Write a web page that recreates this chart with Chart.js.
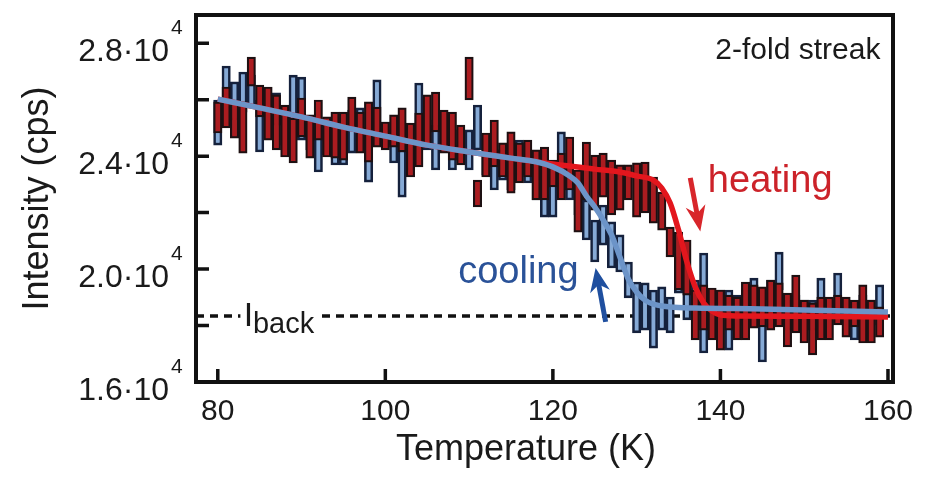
<!DOCTYPE html>
<html>
<head>
<meta charset="utf-8">
<title>2-fold streak intensity vs temperature</title>
<script src="https://cdn.jsdelivr.net/npm/chart.js@4.4.1/dist/chart.umd.min.js"></script>
<style>
    html, body { margin: 0; padding: 0; background: #ffffff; }
    #chart { display: block; }
</style>
</head>
<body>
<canvas id="chart" width="932" height="483"></canvas>
<script>
// Temperatures of the measured points (K)
const temps = [
    80, 81, 82, 83, 84, 85, 86, 87, 88, 89,
    90, 91, 92, 93, 94, 95, 96, 97, 98, 99,
    100, 101, 102, 103, 104, 105, 106, 107, 108, 109,
    110, 111, 112, 113, 114, 115, 116, 117, 118, 119,
    120, 121, 122, 123, 124, 125, 126, 127, 128, 129,
    130, 131, 132, 133, 134, 135, 136, 137, 138, 139,
    140, 141, 142, 143, 144, 145, 146, 147, 148, 149,
    150, 151, 152, 153, 154, 155, 156, 157, 158, 159
];

// Heating run: lower / upper edge of each intensity bar (cps)
const heatLo = [
    24820, 25000, 24640, 24110, 26480, 25390, 24570, 24220, 23970, 23760,
    24680, 23930, 24570, 23970, 23930, 23860, 24930, 24110, 23790, 24320,
    24220, 24320, 24150, 23260, 23620, 24320, 24860, 24110, 23860, 23690,
    25990, 22200, 23260, 23620, 23260, 22690, 23050, 23260, 22450, 22450,
    22910, 22450, 22800, 21310, 22450, 22090, 22550, 21920, 22090, 22450,
    21840, 21990, 21630, 21380, 20430, 19260, 19080, 17490, 17840, 17490,
    17130, 17840, 17490, 17490, 17910, 17950, 17840, 17950, 17240, 17740,
    17380, 16960, 17490, 17490, 18020, 17590, 17950, 17380, 17380, 17590
];
const heatHi = [
    25920, 26450, 25990, 25920, 27510, 26520, 26450, 26170, 25810, 25350,
    26060, 25460, 25990, 25390, 25560, 25560, 26090, 25560, 25920, 25740,
    25210, 25460, 25710, 25170, 25530, 26170, 26270, 25630, 25560, 25100,
    27510, 23150, 24820, 25280, 24470, 24860, 24470, 24570, 24220, 24320,
    23860, 24110, 24680, 23510, 24500, 24040, 24110, 23860, 23690, 23690,
    23760, 23790, 23260, 22730, 21490, 21310, 21030, 19260, 19440, 19330,
    19260, 19080, 19010, 19540, 19440, 19370, 19610, 19510, 19150, 19790,
    18900, 18800, 19010, 19010, 19080, 19010, 18900, 19440, 18900, 18660
];

// Cooling run: lower / upper edge of each intensity bar (cps)
const coolLo = [
    24390, 25740, 25280, 25560, 25740, 24150, 24930, 25100, 24390, 25210,
    24570, 24220, 23440, 24040, 23690, 23690, 24110, 24220, 23080, 24750,
    24390, 23760, 22550, 23510, 24930, 24220, 23510, 24220, 23510, 23860,
    23510, 24220, 23330, 22800, 23150, 22800, 23330, 23050, 22450, 21840,
    21840, 22800, 22450, 21920, 21030, 20250, 20850, 20040, 19900, 18980,
    17740, 17840, 17200, 17840, 17740, 19150, 18200, 18370, 17030, 18200,
    18440, 17130, 18020, 18200, 18900, 16710, 18900, 19260, 17840, 18200,
    18020, 17840, 18900, 18020, 18550, 18200, 17490, 18200, 18020, 18550
];
const coolHi = [
    25990, 27190, 26630, 26980, 26870, 25990, 26170, 26240, 25630, 26870,
    26800, 25280, 25280, 25100, 24930, 24930, 25630, 25710, 24930, 26700,
    25210, 24930, 24220, 24570, 26590, 25280, 25100, 25100, 24390, 24930,
    24930, 25810, 24570, 24220, 24220, 24220, 24570, 23970, 23860, 24220,
    23510, 24860, 23330, 23050, 22450, 21740, 22270, 21670, 21210, 20250,
    19540, 19510, 19260, 19370, 19010, 20430, 19260, 19610, 20570, 19080,
    19260, 19260, 19080, 19260, 19680, 19330, 19610, 20600, 18900, 19080,
    18900, 18900, 19680, 18900, 19860, 18900, 18830, 19080, 18900, 19440
];

// Fitted curves
const heatFitT = [80, 85, 90, 95, 100, 105, 110, 115, 120, 125, 128, 130, 132, 133, 134, 135, 136, 137, 138, 139, 140, 142, 150, 160];
const heatFitI = [26020, 25710, 25390, 25030, 24710, 24390, 24150, 23930, 23720, 23540, 23440, 23300, 23150, 22870, 22340, 21380, 20250, 19360, 18800, 18510, 18370, 18340, 18330, 18300];
const coolFitT = [80, 85, 90, 95, 100, 105, 110, 115, 118, 120, 122, 123, 124, 125, 126, 127, 128, 129, 130, 131, 132, 134, 137, 145, 160];
const coolFitI = [26020, 25710, 25390, 25030, 24710, 24390, 24150, 23930, 23800, 23620, 23300, 23050, 22590, 22200, 21740, 21210, 20430, 19650, 19190, 18900, 18760, 18660, 18620, 18590, 18480];

// Background level (dashed line)
const backLevel = 18340;

// Axes
const xRange = [77.4, 160.6];
const yRange = [16000, 29000];
const xTickValues = [80, 100, 120, 140, 160];
const yTickValues = [16000, 18000, 20000, 22000, 24000, 26000, 28000];
const yLabelValues = [16000, 20000, 24000, 28000];

const FONT = "'Liberation Sans', Arial, 'DejaVu Sans', sans-serif";
const INK = '#1a1a1a';
const Y_LABEL_PAD = 27;

/**
 * Draw a straight arrow with a filled head at (x2, y2)
 */
function drawArrow(ctx, x1, y1, x2, y2, color, width, headLen, headHalf) {
    const ang = Math.atan2(y2 - y1, x2 - x1);
    const cos = Math.cos(ang);
    const sin = Math.sin(ang);
    const bx = x2 - headLen * cos;
    const by = y2 - headLen * sin;
    ctx.setLineDash([]);
    ctx.strokeStyle = color;
    ctx.fillStyle = color;
    ctx.lineWidth = width;
    ctx.lineCap = 'butt';
    ctx.beginPath();
    ctx.moveTo(x1, y1);
    ctx.lineTo(bx + headLen * 0.5 * cos, by + headLen * 0.5 * sin);
    ctx.stroke();
    ctx.beginPath();
    ctx.moveTo(x2, y2);
    ctx.lineTo(bx + headHalf * sin, by - headHalf * cos);
    ctx.lineTo(bx + headLen * 0.3 * cos, by + headLen * 0.3 * sin);
    ctx.lineTo(bx - headHalf * sin, by + headHalf * cos);
    ctx.closePath();
    ctx.fill();
}

// Frame, inward ticks and the text / arrow annotations
const notesPlugin = {
    id: 'notes',
    afterDatasetsDraw(chart) {
        const { ctx, chartArea: a } = chart;
        const xs = chart.scales.x;
        const ys = chart.scales.y;
        const px = t => xs.getPixelForValue(t);
        const py = v => ys.getPixelForValue(v);

        ctx.save();
        ctx.setLineDash([]);

        // I_back label sits on the dashed line
        ctx.fillStyle = '#ffffff';
        ctx.fillRect(px(82.7), py(backLevel) - 6, px(92.3) - px(82.7), 12);
        ctx.fillStyle = INK;
        ctx.textBaseline = 'alphabetic';
        ctx.textAlign = 'left';
        ctx.font = `34px ${FONT}`;
        ctx.fillText('I', px(83.1), py(backLevel) + 10);
        ctx.font = `29px ${FONT}`;
        ctx.fillText('back', px(84.2), py(backLevel) + 17);

        // frame
        ctx.strokeStyle = '#111111';
        ctx.lineWidth = 4;
        ctx.strokeRect(a.left, a.top, a.right - a.left, a.bottom - a.top);

        // inward tick marks
        ctx.lineWidth = 3.5;
        ctx.beginPath();
        yTickValues.forEach(v => {
            ctx.moveTo(a.left, py(v));
            ctx.lineTo(a.left + 13, py(v));
        });
        xTickValues.forEach(t => {
            ctx.moveTo(px(t), a.bottom);
            ctx.lineTo(px(t), a.bottom - 13);
        });
        ctx.stroke();

        // panel label
        ctx.fillStyle = INK;
        ctx.font = `30px ${FONT}`;
        ctx.textAlign = 'right';
        ctx.fillText('2-fold streak', px(159.1), py(27440));

        // heating
        ctx.textAlign = 'left';
        ctx.fillStyle = '#cc2229';
        ctx.font = `38px ${FONT}`;
        ctx.fillText('heating', px(138.5), py(22730));
        drawArrow(ctx, px(136.4), py(23230), px(137.6), py(21330), '#d8262b', 5, 26, 10);

        // cooling
        ctx.fillStyle = '#2a5298';
        ctx.fillText('cooling', px(108.7), py(19510));
        drawArrow(ctx, px(126.3), py(18130), px(125.1), py(20040), '#1f4f9f', 5, 24, 10);

        ctx.restore();
    },
    afterDraw(chart) {
        const { ctx, chartArea: a } = chart;
        const ys = chart.scales.y;
        ctx.save();
        ctx.fillStyle = INK;
        ctx.textBaseline = 'alphabetic';

        // exponent of the y tick labels
        ctx.font = `21px ${FONT}`;
        ctx.textAlign = 'left';
        yLabelValues.forEach(v => {
            ctx.fillText('4', a.left - Y_LABEL_PAD + 2, ys.getPixelForValue(v) - 9);
        });

        // x axis title
        ctx.font = `36px ${FONT}`;
        ctx.textAlign = 'center';
        ctx.fillText('Temperature (K)', 526, 460);
        ctx.restore();
    }
};

const ctx = document.getElementById('chart').getContext('2d');

new Chart(ctx, {
    type: 'bar',
    data: {
        datasets: [
            {
                type: 'line',
                label: 'cooling fit',
                data: coolFitT.map((t, i) => ({ x: t, y: coolFitI[i] })),
                borderColor: '#6c94c8',
                borderWidth: 5.5,
                pointRadius: 0,
                cubicInterpolationMode: 'monotone',
                order: 0
            },
            {
                type: 'line',
                label: 'heating fit',
                data: heatFitT.map((t, i) => ({ x: t, y: heatFitI[i] })),
                borderColor: '#e3161d',
                borderWidth: 5.5,
                pointRadius: 0,
                cubicInterpolationMode: 'monotone',
                order: 1
            },
            {
                label: 'heating',
                data: temps.map((t, i) => ({ x: t, y: [heatLo[i], heatHi[i]] })),
                backgroundColor: '#ab1c20',
                borderColor: '#1d1012',
                borderWidth: 2.2,
                borderSkipped: false,
                barThickness: 8.4,
                grouped: false,
                order: 2
            },
            {
                label: 'cooling',
                data: temps.map((t, i) => ({ x: t, y: [coolLo[i], coolHi[i]] })),
                backgroundColor: '#86aad6',
                borderColor: '#15213c',
                borderWidth: 2.6,
                borderSkipped: false,
                barThickness: 8.4,
                grouped: false,
                order: 3
            },
            {
                type: 'line',
                label: 'I back',
                data: [{ x: xRange[0], y: backLevel }, { x: xRange[1], y: backLevel }],
                borderColor: '#111111',
                borderWidth: 3.5,
                borderDash: [8, 6],
                pointRadius: 0,
                order: 4
            }
        ]
    },
    options: {
        responsive: false,
        animation: false,
        devicePixelRatio: 1,
        layout: { padding: { top: 15, right: 39, left: 0, bottom: 0 } },
        plugins: {
            legend: { display: false },
            tooltip: { enabled: false }
        },
        scales: {
            x: {
                type: 'linear',
                min: xRange[0],
                max: xRange[1],
                offset: false,
                grid: { display: false, drawTicks: false },
                border: { display: false },
                afterBuildTicks: scale => {
                    scale.ticks = xTickValues.map(v => ({ value: v }));
                },
                afterFit: scale => {
                    scale.height = 101;
                    scale.paddingLeft = 0;
                    scale.paddingRight = 0;
                },
                ticks: {
                    color: INK,
                    padding: 12,
                    maxRotation: 0,
                    font: { family: FONT, size: 30 }
                }
            },
            y: {
                type: 'linear',
                min: yRange[0],
                max: yRange[1],
                grid: { display: false, drawTicks: false },
                border: { display: false },
                afterBuildTicks: scale => {
                    scale.ticks = yTickValues.map(v => ({ value: v }));
                },
                afterFit: scale => {
                    // keep the plot frame where the figure has it
                    scale.width = 196;
                    scale.paddingTop = 0;
                    scale.paddingBottom = 0;
                },
                ticks: {
                    color: INK,
                    padding: Y_LABEL_PAD,
                    labelOffset: 9,
                    font: { family: FONT, size: 32 },
                    callback: value => yLabelValues.includes(value)
                        ? (value / 1e4).toFixed(1) + '\u00B710'
                        : ''
                },
                title: {
                    display: true,
                    text: 'Intensity (cps)',
                    color: INK,
                    padding: { top: 16, bottom: 0 },
                    font: { family: FONT, size: 36 }
                }
            }
        }
    },
    plugins: [notesPlugin]
});
</script>
</body>
</html>
